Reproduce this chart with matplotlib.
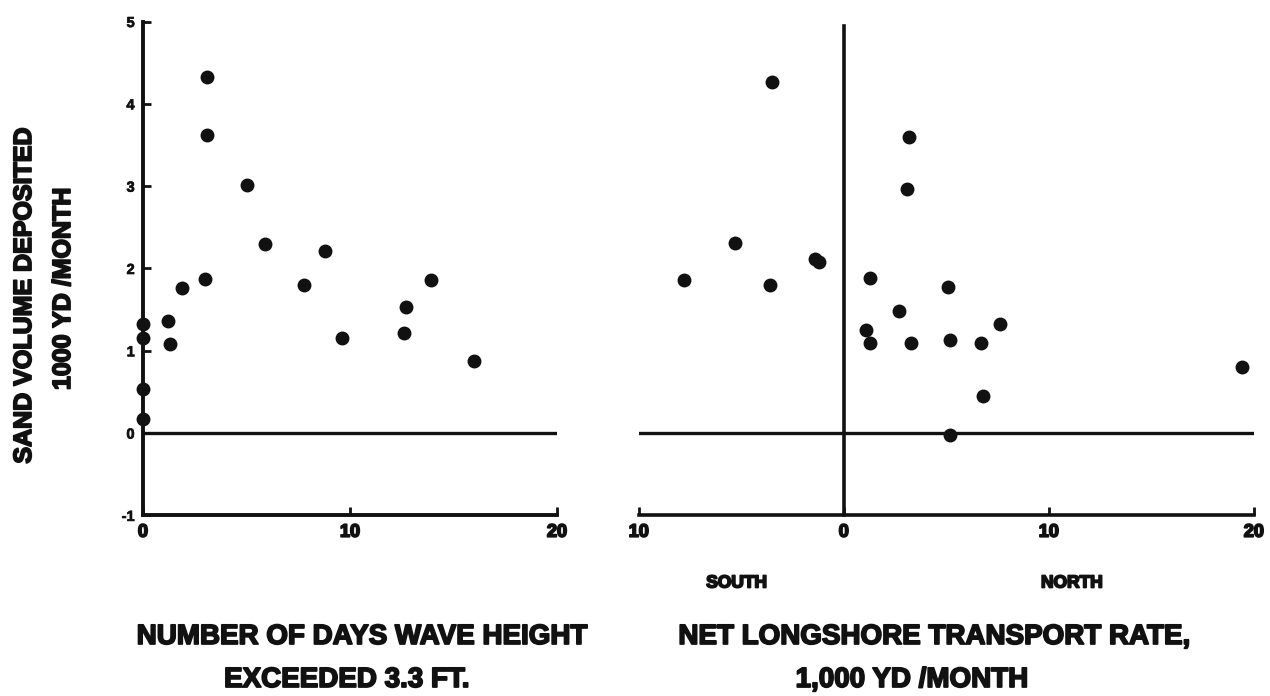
import matplotlib
matplotlib.use("Agg")
import matplotlib.pyplot as plt
import matplotlib.patheffects as pe

plt.rcParams["font.family"] = ["Liberation Sans", "DejaVu Sans"]
plt.rcParams["font.weight"] = "bold"

# Sand volume deposited (1000 yd^3/month) vs number of days wave height exceeded 3.3 ft
wave_days = [3.1, 3.1, 5.0, 5.9, 8.8, 3.0, 1.9, 7.8, 13.9, 12.7,
             1.2, 1.3, 9.6, 12.6, 16.0, 0.0, 0.0, 0.0, 0.0]
wave_volume = [4.33, 3.62, 3.01, 2.30, 2.21, 1.87, 1.76, 1.80, 1.86, 1.53,
               1.36, 1.08, 1.16, 1.22, 0.87, 1.32, 1.16, 0.53, 0.17]

# Sand volume deposited vs net longshore transport rate (south negative, north positive)
transport_rate = [-3.5, 3.2, 3.1, -5.3, -1.4, -1.2, -7.8, -3.6, 1.3, 5.1,
                  2.7, 7.6, 1.1, 1.3, 3.3, 5.2, 6.7, 19.4, 6.8, 5.2]
transport_volume = [4.27, 3.60, 2.96, 2.31, 2.12, 2.08, 1.86, 1.80, 1.88, 1.78,
                    1.48, 1.33, 1.25, 1.10, 1.10, 1.13, 1.10, 0.80, 0.45, -0.02]

left_xticks = [0, 10, 20]
left_xticklabels = ["0", "10", "20"]
left_yticks = [-1, 0, 1, 2, 3, 4, 5]
left_yticklabels = ["-1", "0", "1", "2", "3", "4", "5"]
right_xticks = [-10, 0, 10, 20]
right_xticklabels = ["10", "0", "10", "20"]

INK = "#111111"
LW = 2.4
HEAVY = [pe.withStroke(linewidth=1.3, foreground=INK)]
MEDIUM = [pe.withStroke(linewidth=0.5, foreground=INK)]

fig = plt.figure(figsize=(12.7, 6.96), dpi=100)
fig.patch.set_facecolor("white")

# ---- left panel ----
ax1 = fig.add_axes([0.1126, 0.2595, 0.326, 0.7095])
ax1.set_xlim(0, 20)
ax1.set_ylim(-1, 5)
for s in ("top", "right"):
    ax1.spines[s].set_visible(False)
for s in ("left", "bottom"):
    ax1.spines[s].set_linewidth(LW + 0.4)
    ax1.spines[s].set_color(INK)
ax1.axhline(0, color=INK, lw=LW, zorder=1)
ax1.plot(wave_days, wave_volume, "o", color=INK, ms=9, clip_on=False, zorder=3)
ax1.set_xticks(left_xticks)
ax1.set_xticklabels(left_xticklabels, fontsize=13, fontweight="bold", path_effects=HEAVY)
ax1.set_yticks(left_yticks)
ax1.set_yticklabels(left_yticklabels, fontsize=10.5, fontweight="bold", path_effects=MEDIUM)
ax1.tick_params(axis="x", direction="in", length=6, width=2, pad=6, colors=INK)
ax1.tick_params(axis="y", direction="in", length=6, width=2, pad=6, colors=INK)

# ---- right panel ----
ax2 = fig.add_axes([0.503, 0.2595, 0.4843, 0.7095])
ax2.set_xlim(-10, 20)
ax2.set_ylim(-1, 5)
for s in ("top", "right"):
    ax2.spines[s].set_visible(False)
ax2.spines["left"].set_position(("data", 0))
ax2.spines["left"].set_bounds(-1, 4.95)
for s in ("left", "bottom"):
    ax2.spines[s].set_linewidth(LW + 0.2)
    ax2.spines[s].set_color(INK)
ax2.axhline(0, color=INK, lw=LW, zorder=1)
ax2.plot(transport_rate, transport_volume, "o", color=INK, ms=9, clip_on=False, zorder=3)
ax2.set_yticks([])
ax2.set_xticks(right_xticks)
ax2.set_xticklabels(right_xticklabels, fontsize=13, fontweight="bold", path_effects=HEAVY)
ax2.tick_params(axis="x", direction="in", length=6, width=2, pad=6, colors=INK)

# ---- labels ----
lab = dict(fontsize=20, fontweight="bold", color=INK, ha="center", va="center",
           path_effects=HEAVY)
fig.text(0.0189, 0.5747, "SAND VOLUME DEPOSITED", rotation=90, **{**lab, "fontsize": 18})
fig.text(0.0496, 0.5848, "1000 YD /MONTH", rotation=90, **{**lab, "fontsize": 18})
fig.text(0.285, 0.0848, "NUMBER OF DAYS WAVE HEIGHT", **lab)
fig.text(0.273, 0.023, "EXCEEDED 3.3 FT.", **lab)
fig.text(0.7354, 0.0848, "NET LONGSHORE TRANSPORT RATE,", **lab)
fig.text(0.718, 0.023, "1,000 YD /MONTH", **lab)
fig.text(0.580, 0.1624, "SOUTH", **{**lab, "fontsize": 12.5})
fig.text(0.844, 0.1624, "NORTH", **{**lab, "fontsize": 12.5})

fig.savefig("out.png", dpi=100)
